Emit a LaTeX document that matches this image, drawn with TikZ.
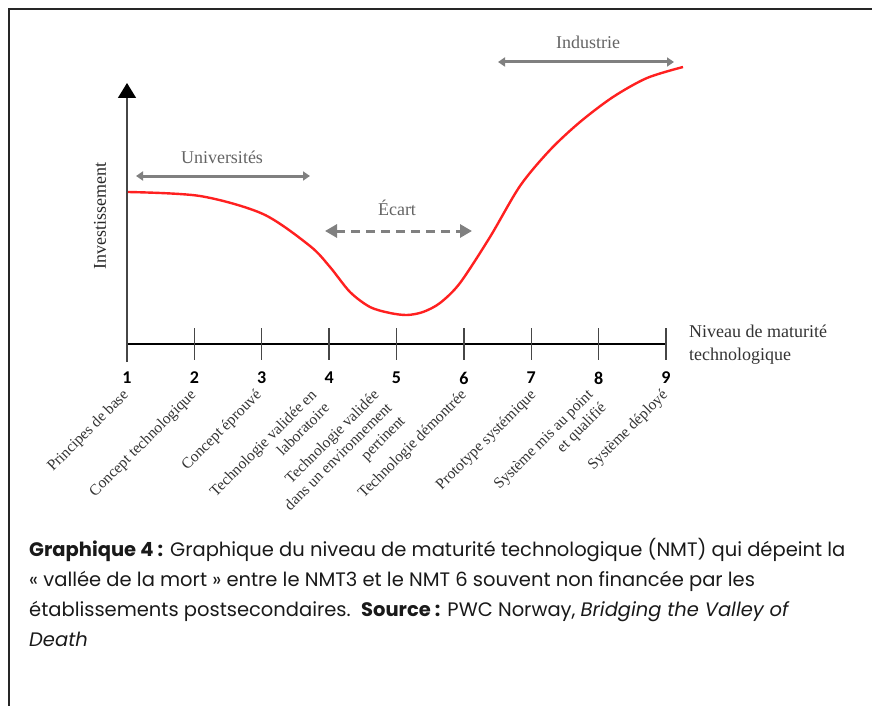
\documentclass[tikz,border=0pt]{standalone}
\usepackage{fontspec}
\setmainfont{Liberation Serif}
\newfontfamily\numfont{Carlito}
\newfontfamily\capfont{Poppins}
\usetikzlibrary{arrows.meta}
\definecolor{spangray}{RGB}{128,128,128}
\definecolor{labelgray}{RGB}{100,100,100}
\definecolor{axisgray}{RGB}{70,70,70}
\definecolor{curvered}{RGB}{255,32,32}

\begin{document}
\begin{tikzpicture}[x=1pt,y=-1pt,
	span/.style={draw=spangray, line width=3pt},
	spanlabel/.style={text=labelgray, font=\fontsize{18}{20}\selectfont, inner sep=0pt},
	level/.style={font=\numfont\bfseries\fontsize{18}{20}\selectfont, inner sep=0pt},
	stage/.style={font=\fontsize{15.5}{18.5}\selectfont, rotate=45, align=right, anchor=north east, inner sep=0pt, text=black!80}]
	\useasboundingbox (0,0) rectangle (872,706);
	\draw[line width=2.2pt, black!85] (9,706) -- (9,9) -- (872,9);

	% axes
	\coordinate (ybot) at (127,362);
	\coordinate (ytop) at (127,83);
	\draw[axisgray, line width=1.4pt, -{Triangle[length=15pt,width=18pt,color=black]}] (ybot) -- (ytop);
	\draw[line width=1.2pt] (127,344) -- (666,344);

	\foreach \i in {1,...,9}
	    {
		  \pgfmathsetmacro{\tx}{127+(\i-1)*67.375}%
		  \coordinate (t\i) at (\tx,344);
		  \draw[axisgray, line width=1.4pt] (\tx,328) -- (\tx,360);
		  \node[level] (n\i) at (\tx,378) {\i};
	    }
	\foreach \i/\dx/\txt in {1/-5.5/{Principes de base}, 2/-5.5/{Concept technologique},
	    3/-7.5/{Concept éprouvé}, 4/-19.5/{Technologie validée en\\laboratoire},
	    5/-24.5/{Technologie validée\\dans un environnement\\pertinent},
	    6/-4.5/{Technologie démontrée}, 7/-2.5/{Prototype systémique},
	    8/-12.5/{Système mis au point\\et qualifié}, 9/-5.5/{Système déployé}}
	    {
		  \pgfmathsetmacro{\sx}{127+(\i-1)*67.375+\dx}%
		  \node[stage] (s\i) at (\sx,388) {\txt};
	    }

	\node[rotate=90, font=\fontsize{18}{20}\selectfont, text=black!85] (invest) at (100,216) {Investissement};
	\node[anchor=north west, align=left, inner sep=0pt, font=\fontsize{18}{23}\selectfont, text=black!80] (nmt) at (689,325) {Niveau de maturité\\technologique};

	% who funds what
	\coordinate (uniL) at (136,176);
	\coordinate (uniR) at (310,176);
	\draw[span, {Triangle[length=7pt,width=9pt]}-{Triangle[length=7pt,width=9pt]}] (uniL) -- (uniR);
	\node[spanlabel] (uni) at (222,157) {Universités};

	\coordinate (gapL) at (325,231);
	\coordinate (gapR) at (472,231);
	\draw[span, dash pattern=on 9pt off 6pt, {Triangle[length=12pt,width=13pt]}-{Triangle[length=12pt,width=13pt]}] (gapL) -- (gapR);
	\node[spanlabel] (gap) at (397,208) {Écart};

	\coordinate (indL) at (498,62);
	\coordinate (indR) at (674,62);
	\draw[span, {Triangle[length=7pt,width=9pt]}-{Triangle[length=7pt,width=9pt]}] (indL) -- (indR);
	\node[spanlabel] (ind) at (588,42) {Industrie};

	\draw[curvered, line width=2.4pt] plot[smooth, tension=0.5] coordinates {(128,192) (200,196) (263,214) (310,246) (330,267) (350,292) (370,307) (390,313) (407,315) (423,312) (440,303) (460,283) (490,237) (520,186) (550,150) (580,122) (613,97) (647,78) (683,67)};

	\node[anchor=north west, align=left, inner sep=0pt, text=black!90, font=\capfont\fontsize{19.5}{30}\selectfont] (caption) at (29,538)
	    {\textbf{Graphique 4 :} Graphique du niveau de maturité technologique (NMT) qui dépeint la\\
	    « vallée de la mort » entre le NMT3 et le NMT 6 souvent non financée par les\\
	    établissements postsecondaires.\ \ \textbf{Source :} PWC Norway, \textit{Bridging the Valley of}\\
	    \textit{Death}};
\end{tikzpicture}
\end{document}
